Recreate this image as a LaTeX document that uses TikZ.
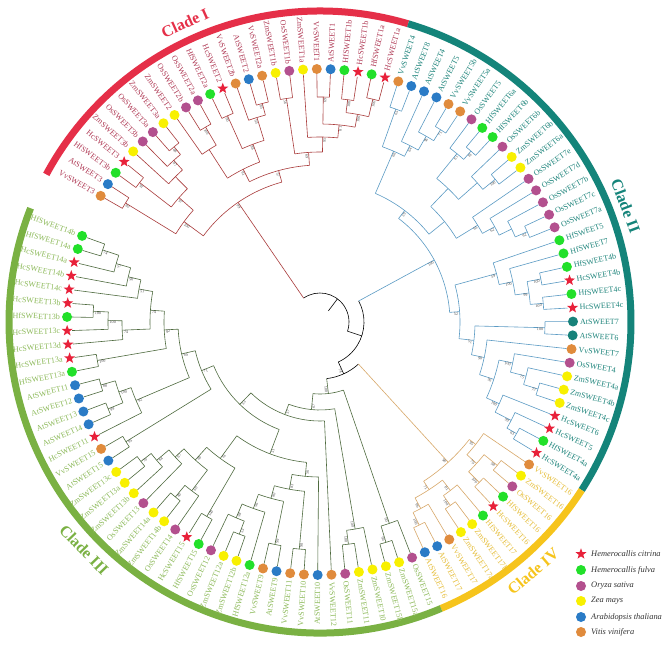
\documentclass[tikz,border=0pt]{standalone}
\usepackage{fontspec}
\setmainfont{Liberation Serif}
\usetikzlibrary{shapes.geometric}
\definecolor{brI}{HTML}{A93B3B}
\definecolor{brII}{HTML}{5B9BC4}
\definecolor{brIII}{HTML}{4F6B3F}
\definecolor{brIV}{HTML}{D8A869}
\definecolor{labI}{HTML}{B03A55}
\definecolor{labII}{HTML}{1F857C}
\definecolor{labIII}{HTML}{8DBA5A}
\definecolor{labIV}{HTML}{E6BE3A}
\definecolor{arcI}{HTML}{E52F48}
\definecolor{arcII}{HTML}{14847A}
\definecolor{arcIII}{HTML}{7AB143}
\definecolor{arcIV}{HTML}{F6C41C}
\definecolor{cHc}{HTML}{E8213A}
\definecolor{cHf}{HTML}{22E02A}
\definecolor{cOs}{HTML}{B3508E}
\definecolor{cZm}{HTML}{F8F000}
\definecolor{cAt}{HTML}{2A7BC6}
\definecolor{cVv}{HTML}{E08B3C}
\definecolor{cTl}{HTML}{17827A}
\newcommand\nd[5]{%
  \pgfmathsetmacro\aA{150.1-3.125*(#2)}%
  \pgfmathsetmacro\aB{150.1-3.125*(#3)}%
  \pgfmathsetmacro\aM{(\aA+\aB)/2}%
  \draw[cbr] (\aA:#1pt) arc[start angle=\aA,end angle=\aB,radius=#1pt];%
  \draw[cbr] (\aM:#4pt) -- (\aM:#1pt);%
  \if\relax\detokenize{#5}\relax\else
    \pgfmathsetmacro\rL{#1-1.2}%
    \pgfmathtruncatemacro\lft{cos(\aM)<0 ? 1 : 0}%
    \ifnum\lft=1
      \node[bs,rotate=\aM+180,anchor=north west] at (\aM:\rL pt) {#5};%
    \else
      \node[bs,rotate=\aM,anchor=north east] at (\aM:\rL pt) {#5};%
    \fi
  \fi}
\newcommand\lf[4]{%
  \pgfmathsetmacro\aA{150.1-3.125*(#1)}%
  \draw[cbr] (\aA:#2pt) -- (\aA:248pt);%
  \node[#3] at (\aA:253pt) {};%
  \pgfmathtruncatemacro\lft{cos(\aA)<0 ? 1 : 0}%
  \ifnum\lft=1
    \node[clab,rotate=\aA+180,anchor=east] at (\aA:260pt) {#4};%
  \else
    \node[clab,rotate=\aA,anchor=west] at (\aA:260pt) {#4};%
  \fi}
\begin{document}
\begin{tikzpicture}[x=1pt,y=1pt,
  bs/.style={font=\fontsize{4.1}{5}\selectfont,text=black!70,inner sep=0.3pt},
  mk/.style={circle,inner sep=0pt,minimum size=10pt,draw=none},
  mHf/.style={mk,fill=cHf}, mOs/.style={mk,fill=cOs}, mZm/.style={mk,fill=cZm},
  mAt/.style={mk,fill=cAt}, mVv/.style={mk,fill=cVv}, mTl/.style={mk,fill=cTl},
  mHc/.style={star,star points=5,star point ratio=2.4,fill=cHc,draw=none,inner sep=0pt,minimum size=11.5pt},
  cbr/.style={draw=black,line width=0.6pt},
  clab/.style={font=\fontsize{8}{9}\selectfont,inner sep=0pt},
  cladet/.style={font=\bfseries\fontsize{16}{18}\selectfont},
  lg/.style={font=\itshape\fontsize{8.4}{10}\selectfont,text=black!80,anchor=west,inner sep=0pt}]
\useasboundingbox (0,0) rectangle (669,646);
\fill[white] (0,0) rectangle (669,646);
\begin{scope}[shift={(320,324)}]
% outer clade arcs
\draw[arcI,line width=7pt] (151.6625:311pt) arc[start angle=151.6625,end angle=73.5375,radius=311pt];
\draw[arcII,line width=7pt] (73.5375:311pt) arc[start angle=73.5375,end angle=-32.7125,radius=311pt];
\draw[arcIV,line width=7pt] (-32.7125:311pt) arc[start angle=-32.7125,end angle=-67.0875,radius=311pt];
\draw[arcIII,line width=7pt] (-67.0875:311pt) arc[start angle=-67.0875,end angle=-201.4625,radius=311pt];
\node[cladet,text=arcI,rotate=24.3] at (114.3:328pt) {Clade I};
\node[cladet,text=arcII,rotate=-69.2] at (20.8:327pt) {Clade II};
\node[cladet,text=arcIII,rotate=-46] at (-136:328pt) {Clade III};
\node[cladet,text=arcIV,rotate=40.5] at (-49.5:328pt) {Clade IV};
% root
\tikzset{cbr/.style={draw=black,line width=0.6pt}}
\nd{29}{8.21875}{53.937195}{14}{}
\nd{44}{38.90625}{68.968140}{29}{}
\nd{57}{63.25}{74.686279}{44}{74}
% ---------------- Clade I
\tikzset{cbr/.style={draw=brI,line width=0.6pt},clab/.style={font=\fontsize{8}{9}\selectfont,inner sep=0pt,text=labI}}
\nd{145}{2.09375}{14.34375}{29}{99}
\nd{169}{0.5}{3.6875}{145}{100}
\nd{228}{0}{1}{169}{82}
\nd{188}{2.5}{4.875}{169}{97}
\nd{228}{2}{3}{188}{92}
\nd{205}{4}{5.75}{188}{}
\nd{218}{5}{6.5}{205}{87}
\nd{228}{6}{7}{218}{68}
\nd{157}{10.6875}{18}{145}{57}
\nd{171}{8.75}{12.625}{157}{91}
\nd{205}{8}{9.5}{171}{}
\nd{226}{9}{10}{205}{100}
\nd{190}{11.5}{13.75}{171}{88}
\nd{226}{11}{12}{190}{90}
\nd{214}{13}{14.5}{190}{93}
\nd{226}{14}{15}{214}{85}
\nd{170}{16.5}{19.5}{157}{69}
\nd{226}{16}{17}{170}{56}
\nd{185}{18}{21}{170}{95}
\nd{198}{19.5}{22.5}{185}{81}
\nd{225}{19}{20}{198}{69}
\nd{211}{21.5}{23.5}{198}{100}
\nd{224}{21}{22}{211}{100}
\nd{229}{23}{24}{211}{100}
\lf{0}{228}{mVv}{VvSWEET3}
\lf{1}{228}{mAt}{AtSWEET3}
\lf{2}{228}{mHf}{HfSWEET3b}
\lf{3}{228}{mHc}{HcSWEET3}
\lf{4}{205}{mZm}{ZmSWEET3b}
\lf{5}{218}{mOs}{OsSWEET3b}
\lf{6}{228}{mOs}{OsSWEET3a}
\lf{7}{228}{mZm}{ZmSWEET3a}
\lf{8}{205}{mZm}{ZmSWEET2}
\lf{9}{226}{mOs}{OsSWEET2b}
\lf{10}{226}{mOs}{OsSWEET2a}
\lf{11}{226}{mHf}{HfSWEET2a}
\lf{12}{226}{mHc}{HcSWEET2}
\lf{13}{214}{mVv}{VvSWEET2b}
\lf{14}{226}{mAt}{AtSWEET2}
\lf{15}{226}{mVv}{VvSWEET2a}
\lf{16}{226}{mZm}{ZmSWEET1b}
\lf{17}{226}{mOs}{OsSWEET1b}
\lf{18}{185}{mZm}{ZmSWEET1a}
\lf{19}{225}{mVv}{VvSWEET1}
\lf{20}{225}{mAt}{AtSWEET1}
\lf{21}{224}{mHf}{HfSWEET1b}
\lf{22}{224}{mHc}{HcSWEET1b}
\lf{23}{229}{mHf}{HfSWEET1a}
\lf{24}{229}{mHc}{HcSWEET1a}
% ---------------- Clade II
\tikzset{cbr/.style={draw=brII,line width=0.6pt},clab/.style={font=\fontsize{8}{9}\selectfont,inner sep=0pt,text=labII}}
\nd{130}{31.140625}{46.671875}{44}{100}
\nd{140}{26.6875}{35.59375}{130}{59}
\nd{186}{25.5}{27.875}{140}{66}
\nd{226}{25}{26}{186}{65}
\nd{198}{27}{28.75}{186}{64}
\nd{214}{28}{29.5}{198}{96}
\nd{227}{29}{30}{214}{71}
\nd{160}{33.25}{37.9375}{140}{}
\nd{185}{31.75}{34.75}{160}{}
\nd{217}{31}{32.5}{185}{61}
\nd{228}{32}{33}{217}{81}
\nd{210}{34}{35.5}{185}{}
\nd{226}{35}{36}{210}{100}
\nd{185}{37}{38.875}{160}{65}
\nd{199}{38}{39.75}{185}{62}
\nd{213}{39}{40.5}{199}{}
\nd{226}{40}{41}{213}{92}
\nd{140}{43.125}{50.21875}{130}{52}
\nd{183}{42}{44.25}{140}{59}
\nd{197}{43}{45.5}{183}{100}
\nd{211}{44.5}{46.5}{197}{99}
\nd{225}{44}{45}{211}{100}
\nd{224}{46}{47}{211}{100}
\nd{155}{48.5}{51.9375}{140}{51}
\nd{225}{48}{49}{155}{100}
\nd{168}{50}{53.875}{155}{90}
\nd{183}{51.875}{55.875}{168}{96}
\nd{197}{51}{52.75}{183}{100}
\nd{213}{52}{53.5}{197}{75}
\nd{228}{53}{54}{213}{73}
\nd{197}{55}{56.75}{183}{100}
\nd{215}{56}{57.5}{197}{99}
\nd{226}{57}{58}{215}{63}
\lf{25}{226}{mVv}{VvSWEET4}
\lf{26}{226}{mAt}{AtSWEET8}
\lf{27}{198}{mAt}{AtSWEET4}
\lf{28}{214}{mAt}{AtSWEET5}
\lf{29}{227}{mVv}{VvSWEET5b}
\lf{30}{227}{mVv}{VvSWEET5a}
\lf{31}{217}{mOs}{OsSWEET5}
\lf{32}{228}{mHf}{HfSWEET6a}
\lf{33}{228}{mHf}{HfSWEET6b}
\lf{34}{210}{mOs}{OsSWEET6b}
\lf{35}{226}{mZm}{ZmSWEET6b}
\lf{36}{226}{mZm}{ZmSWEET6a}
\lf{37}{185}{mOs}{OsSWEET7e}
\lf{38}{199}{mOs}{OsSWEET7d}
\lf{39}{213}{mOs}{OsSWEET7b}
\lf{40}{226}{mOs}{OsSWEET7c}
\lf{41}{226}{mOs}{OsSWEET7a}
\lf{42}{183}{mHf}{HfSWEET5}
\lf{43}{197}{mHf}{HfSWEET7}
\lf{44}{225}{mHf}{HfSWEET4b}
\lf{45}{225}{mHc}{HcSWEET4b}
\lf{46}{224}{mHf}{HfSWEET4c}
\lf{47}{224}{mHc}{HcSWEET4c}
\lf{48}{225}{mTl}{AtSWEET7}
\lf{49}{225}{mTl}{AtSWEET6}
\lf{50}{168}{mVv}{VvSWEET7}
\lf{51}{197}{mOs}{OsSWEET4}
\lf{52}{213}{mZm}{ZmSWEET4a}
\lf{53}{228}{mZm}{ZmSWEET4b}
\lf{54}{228}{mZm}{ZmSWEET4c}
\lf{55}{197}{mHc}{HcSWEET6}
\lf{56}{215}{mHc}{HcSWEET5}
\lf{57}{226}{mHf}{HfSWEET4a}
\lf{58}{226}{mHc}{HcSWEET4a}
% ---------------- Clade IV
\tikzset{cbr/.style={draw=brIV,line width=0.6pt},clab/.style={font=\fontsize{8}{9}\selectfont,inner sep=0pt,text=labIV}}
\nd{190}{60.25}{66.25}{57}{98}
\nd{198}{59}{61.5}{190}{95}
\nd{211}{60.5}{62.5}{198}{79}
\nd{228}{60}{61}{211}{98}
\nd{226}{62}{63}{211}{100}
\nd{200}{64.75}{67.75}{190}{71}
\nd{213}{64}{65.5}{200}{81}
\nd{225}{65}{66}{213}{100}
\nd{212}{67}{68.5}{200}{96}
\nd{226}{68}{69}{212}{100}
\lf{59}{198}{mVv}{VvSWEET16}
\lf{60}{228}{mZm}{ZmSWEET16}
\lf{61}{228}{mOs}{OsSWEET16}
\lf{62}{226}{mHf}{HfSWEET16}
\lf{63}{226}{mHc}{HcSWEET16}
\lf{64}{213}{mHf}{HfSWEET17}
\lf{65}{225}{mZm}{ZmSWEET17b}
\lf{66}{225}{mZm}{ZmSWEET17a}
\lf{67}{212}{mVv}{VvSWEET17}
\lf{68}{226}{mAt}{AtSWEET17}
\lf{69}{226}{mAt}{AtSWEET16}
% ---------------- Clade III
\tikzset{cbr/.style={draw=brIII,line width=0.6pt},clab/.style={font=\fontsize{8}{9}\selectfont,inner sep=0pt,text=labIII}}
\nd{72}{70.75}{78.622559}{57}{100}
\nd{213}{70}{71.5}{72}{90}
\nd{230}{71}{72}{213}{96}
\nd{88}{73.75}{83.495117}{72}{67}
\nd{210}{73}{74.5}{88}{100}
\nd{224}{74}{75}{210}{100}
\nd{99}{76}{90.990234}{88}{57}
\nd{115}{83.492188}{98.488281}{99}{53}
\nd{141}{78.578125}{88.40625}{115}{51}
\nd{155}{77}{80.15625}{141}{56}
\nd{170}{78.5}{81.8125}{155}{83}
\nd{228}{78}{79}{170}{90}
\nd{183}{80.5}{83.125}{170}{80}
\nd{227}{80}{81}{183}{99}
\nd{198}{82}{84.25}{183}{96}
\nd{213}{83.5}{85}{198}{98}
\nd{227}{83}{84}{213}{53}
\nd{169}{86.5}{90.3125}{141}{61}
\nd{225}{86}{87}{169}{100}
\nd{186}{88.75}{91.875}{169}{69}
\nd{212}{88}{89.5}{186}{60}
\nd{227}{89}{90}{212}{80}
\nd{198}{91}{92.75}{186}{67}
\nd{214}{92}{93.5}{198}{64}
\nd{227}{93}{94}{214}{70}
\nd{128}{95.5}{101.4765625}{115}{71}
\nd{228}{95}{96}{128}{95}
\nd{142}{98.25}{104.703125}{128}{64}
\nd{200}{97}{99.5}{142}{92}
\nd{213}{98.5}{100.5}{200}{100}
\nd{229}{98}{99}{213}{99}
\nd{228}{100}{101}{213}{88}
\nd{156}{102.5}{106.90625}{142}{92}
\nd{226}{102}{103}{156}{100}
\nd{170}{104.875}{108.9375}{156}{74}
\nd{198}{104}{105.75}{170}{74}
\nd{212}{105}{106.5}{198}{100}
\nd{227}{106}{107}{212}{100}
\nd{184}{108}{109.875}{170}{51}
\nd{197}{109}{110.75}{184}{98}
\nd{212}{110}{111.5}{197}{57}
\nd{229}{111}{112}{212}{74}
\lf{70}{213}{mOs}{OsSWEET15}
\lf{71}{230}{mZm}{ZmSWEET15a}
\lf{72}{230}{mZm}{ZmSWEET15b}
\lf{73}{210}{mZm}{ZmSWEET10}
\lf{74}{224}{mZm}{ZmSWEET11}
\lf{75}{224}{mOs}{OsSWEET11}
\lf{76}{99}{mVv}{VvSWEET12}
\lf{77}{155}{mAt}{AtSWEET10}
\lf{78}{228}{mVv}{VvSWEET10}
\lf{79}{228}{mVv}{VvSWEET11}
\lf{80}{227}{mAt}{AtSWEET9}
\lf{81}{227}{mVv}{VvSWEET9}
\lf{82}{198}{mHf}{HfSWEET12a}
\lf{83}{227}{mZm}{ZmSWEET12b}
\lf{84}{227}{mZm}{ZmSWEET12a}
\lf{85}{213}{mOs}{OsSWEET12}
\lf{86}{225}{mHf}{HfSWEET15}
\lf{87}{225}{mHc}{HcSWEET15}
\lf{88}{212}{mOs}{OsSWEET14}
\lf{89}{227}{mZm}{ZmSWEET14b}
\lf{90}{227}{mZm}{ZmSWEET14a}
\lf{91}{198}{mOs}{OsSWEET13}
\lf{92}{214}{mZm}{ZmSWEET13b}
\lf{93}{227}{mZm}{ZmSWEET13a}
\lf{94}{227}{mZm}{ZmSWEET13c}
\lf{95}{228}{mAt}{AtSWEET15}
\lf{96}{228}{mVv}{VvSWEET15}
\lf{97}{200}{mHc}{HcSWEET11}
\lf{98}{229}{mAt}{AtSWEET14}
\lf{99}{229}{mAt}{AtSWEET13}
\lf{100}{228}{mAt}{AtSWEET12}
\lf{101}{228}{mAt}{AtSWEET11}
\lf{102}{226}{mHf}{HfSWEET13a}
\lf{103}{226}{mHc}{HcSWEET13a}
\lf{104}{198}{mHc}{HcSWEET13d}
\lf{105}{212}{mHc}{HcSWEET13c}
\lf{106}{227}{mHf}{HfSWEET13b}
\lf{107}{227}{mHc}{HcSWEET13b}
\lf{108}{184}{mHc}{HcSWEET14c}
\lf{109}{197}{mHc}{HcSWEET14b}
\lf{110}{212}{mHc}{HcSWEET14a}
\lf{111}{229}{mHf}{HfSWEET14a}
\lf{112}{229}{mHf}{HfSWEET14b}
\end{scope}
% legend
\node[mHc] (k1) at (581,92) {};  \node[lg] at (591,92) {Hemerocallis citrina};
\node[mHf] (k2) at (581,76) {};  \node[lg] at (591,76) {Hemerocallis fulva};
\node[mOs] (k3) at (581,60) {};  \node[lg] at (591,60) {Oryza sativa};
\node[mZm] (k4) at (581,45) {};  \node[lg] at (591,45) {Zea mays};
\node[mAt] (k5) at (581,29) {};  \node[lg] at (591,29) {Arabidopsis thaliana};
\node[mVv] (k6) at (581,14) {};  \node[lg] at (591,14) {Vitis vinifera};
\end{tikzpicture}
\end{document}
